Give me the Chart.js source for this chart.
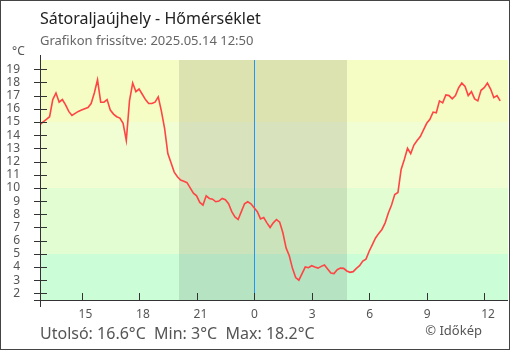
<!DOCTYPE html>
<html lang="hu">
<head>
    <meta charset="UTF-8">
    <title>Sátoraljaújhely - Hőmérséklet</title>
    <script src="https://cdn.jsdelivr.net/npm/chart.js@4"></script>
    <style>
        body { margin: 0; background: #fff; }
        #grafikon { display: block; }
    </style>
</head>
<body>
<canvas id="grafikon" width="510" height="350"></canvas>

<script>
    // Mérések: 10 percenként, 2025.05.13 12:50-től 2025.05.14 12:50-ig
    const kezdoOra = 12 + 50 / 60;
    const lepesPerc = 10;
    const homerseklet = [
        14.8, 15.0, 15.2, 15.4, 16.7, 17.2, 16.5, 16.7, 16.3, 15.8,
        15.5, 15.65, 15.8, 15.9, 16.0, 16.1, 16.4, 17.2, 18.2, 16.5,
        16.5, 16.7, 15.9, 15.6, 15.4, 15.3, 14.9, 13.6, 16.6, 17.95,
        17.3, 17.5, 17.1, 16.7, 16.4, 16.4, 16.5, 16.9, 15.8, 14.5,
        12.6, 11.9, 11.2, 10.85, 10.6, 10.5, 10.4, 10.0, 9.6, 9.4,
        8.9, 8.7, 9.4, 9.2, 9.15, 8.95, 9.0, 9.2, 9.1, 8.8,
        8.2, 7.8, 7.6, 8.2, 8.8, 8.95, 8.8, 8.5, 8.2, 7.65,
        7.75, 7.35, 7.0, 7.35, 7.6, 7.4, 6.6, 5.45, 4.85, 3.9,
        3.2, 3.0, 3.5, 4.0, 3.95, 4.1, 4.0, 3.92, 4.05, 4.15,
        3.85, 3.55, 3.5, 3.8, 3.92, 3.9, 3.7, 3.6, 3.65, 3.9,
        4.1, 4.45, 4.6, 5.2, 5.7, 6.2, 6.55, 6.85, 7.35, 8.1,
        8.7, 9.5, 9.65, 11.4, 12.15, 13.0, 12.6, 13.25, 13.6, 13.9,
        14.4, 14.9, 15.2, 15.75, 15.7, 16.6, 16.45, 17.05, 17.0, 16.75,
        17.0, 17.6, 17.95, 17.7, 17.0, 17.3, 16.75, 16.6, 17.4, 17.6,
        17.95, 17.5, 16.85, 17.0, 16.6
    ];

    const xTickek = [15, 18, 21, 24, 27, 30, 33, 36];   // órák, 24 felett már másnap
    const yTickek = [2, 3, 4, 5, 6, 7, 8, 9, 10, 11, 12, 13, 14, 15, 16, 17, 18, 19];
    const savHatarok = [5, 10, 15];                      // színsávok határai, °C
    const napnyugta = 20 + 5 / 60;
    const napkelte = 24 + 4 + 50 / 60;
    const ejfel = 24;

    const savSzinek = ['#cbfdd7', '#e1fdd1', '#f1fdd3', '#f5fdc4'];

    const pontok = homerseklet.map((t, i) => ({ x: kezdoOra + i * lepesPerc / 60, y: t }));

    const utolso = homerseklet[homerseklet.length - 1];
    const minimum = Math.min(...homerseklet);
    const maximum = Math.max(...homerseklet);

    const FONT = '"Noto Sans", "DejaVu Sans", sans-serif';

    const hatter = {
        id: 'hatter',
        beforeDatasetsDraw(chart) {
            const { ctx, chartArea: a, scales: { x, y } } = chart;
            ctx.save();
            // hőmérsékleti sávok
            const hatarok = [y.min, ...savHatarok, y.max];
            for (let i = 0; i < hatarok.length - 1; i++) {
                const lent = y.getPixelForValue(hatarok[i]);
                const fent = y.getPixelForValue(hatarok[i + 1]);
                ctx.fillStyle = savSzinek[i];
                ctx.fillRect(a.left, Math.round(fent), a.right - a.left, Math.round(lent) - Math.round(fent));
            }
            // éjszaka
            const x1 = Math.round(x.getPixelForValue(napnyugta));
            const x2 = Math.round(x.getPixelForValue(napkelte));
            ctx.fillStyle = 'rgba(0,0,0,0.1)';
            ctx.fillRect(x1, a.top, x2 - x1, a.bottom - a.top);
            // éjfél
            const xm = Math.round(x.getPixelForValue(ejfel)) + 0.5;
            ctx.strokeStyle = '#2196f3';
            ctx.lineWidth = 1;
            ctx.beginPath();
            ctx.moveTo(xm, a.top);
            ctx.lineTo(xm, a.bottom);
            ctx.stroke();
            ctx.restore();
        },
        afterDraw(chart) {
            const { ctx, chartArea: a, scales: { x, y } } = chart;
            ctx.save();
            ctx.strokeStyle = '#333';
            ctx.lineWidth = 1;
            ctx.beginPath();
            // tengelyek
            ctx.moveTo(a.left + 0.5, a.top - 5);
            ctx.lineTo(a.left + 0.5, a.bottom + 7);
            ctx.moveTo(a.left - 6, a.bottom + 0.5);
            ctx.lineTo(a.right, a.bottom + 0.5);
            yTickek.forEach(v => {
                const py = Math.round(y.getPixelForValue(v)) + 0.5;
                ctx.moveTo(a.left - 6, py);
                ctx.lineTo(a.left + 7, py);
            });
            xTickek.forEach(h => {
                const px = Math.round(x.getPixelForValue(h)) + 0.5;
                ctx.moveTo(px, a.bottom - 7);
                ctx.lineTo(px, a.bottom);
            });
            ctx.stroke();

            // tengelyfeliratok
            ctx.fillStyle = '#555';
            ctx.font = '12px ' + FONT;
            ctx.textBaseline = 'middle';
            ctx.textAlign = 'right';
            yTickek.forEach(v => ctx.fillText(String(v), 20, y.getPixelForValue(v)));
            ctx.textAlign = 'left';
            xTickek.forEach(h => ctx.fillText(String(h % 24), x.getPixelForValue(h) - 3, a.bottom + 15));
            ctx.textBaseline = 'alphabetic';
            ctx.fillText('°C', 12, 55);

            // cím
            ctx.fillStyle = '#222';
            ctx.font = '16px ' + FONT;
            ctx.fillText('Sátoraljaújhely - Hőmérséklet', 40, 24);
            ctx.fillStyle = '#666';
            ctx.font = '13px ' + FONT;
            ctx.fillText('Grafikon frissítve: 2025.05.14 12:50', 40, 45);

            // összesítés
            ctx.fillStyle = '#555';
            ctx.font = '16px ' + FONT;
            ctx.fillText('Utolsó: ' + utolso + '°C  Min: ' + minimum + '°C  Max: ' + maximum + '°C', 40, 339);
            ctx.font = '13px ' + FONT;
            ctx.textAlign = 'right';
            ctx.fillText('© Időkép', 482, 335);

            // keret
            ctx.strokeStyle = '#444';
            ctx.strokeRect(0.5, 0.5, chart.width - 1, chart.height - 1);
            ctx.restore();
        }
    };

    new Chart(document.getElementById('grafikon'), {
        type: 'line',
        data: {
            datasets: [{
                data: pontok,
                borderColor: '#ff4444',
                borderWidth: 1.6,
                pointRadius: 0,
                tension: 0,
                fill: false
            }]
        },
        options: {
            responsive: false,
            animation: false,
            devicePixelRatio: 1,
            layout: { padding: { left: 40, top: 60, right: 2, bottom: 50 } },
            plugins: { legend: { display: false }, tooltip: { enabled: false } },
            scales: {
                x: { type: 'linear', min: kezdoOra, max: 37.24, display: false },
                y: { min: 1.5, max: 19.7, display: false }
            }
        },
        plugins: [hatter]
    });
</script>
</body>
</html>
